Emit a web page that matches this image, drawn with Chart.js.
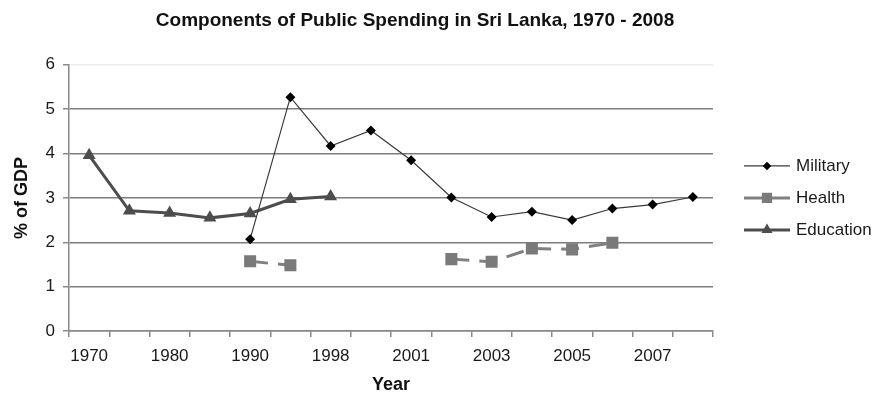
<!DOCTYPE html>
<html>
<head>
<meta charset="utf-8">
<title>Components of Public Spending in Sri Lanka, 1970 - 2008</title>
<script src="https://cdn.jsdelivr.net/npm/chart.js@4.4.1/dist/chart.umd.min.js"></script>
<style>
  html, body { margin: 0; padding: 0; background: #fff; }
  #wrap { width: 881px; height: 396px; }
</style>
</head>
<body>
<div id="wrap"><canvas id="spending" width="881" height="396"></canvas></div>
<script>
// Category labels along the x axis (every other slot is left unlabeled)
const yearLabels = ['1970', '', '1980', '', '1990', '', '1998', '', '2001', '', '2003', '', '2005', '', '2007', ''];
// % of GDP per series, null where the series has no value
const military = [null, null, null, null, 2.07, 5.27, 4.17, 4.52, 3.85, 3.01, 2.57, 2.69, 2.50, 2.76, 2.85, 3.02];
const health = [null, null, null, null, 1.57, 1.48, null, null, null, 1.62, 1.56, 1.86, 1.84, 1.99, null, null];
const education = [3.96, 2.71, 2.66, 2.55, 2.65, 2.97, 3.03, null, null, null, null, null, null, null, null, null];
const yTicks = [0, 1, 2, 3, 4, 5, 6];

const FONT = "'Liberation Sans', Arial, Helvetica, sans-serif";
Chart.defaults.font.family = FONT;
Chart.defaults.color = '#1a1a1a';

const styles = [
  { line: '#3a3a3a', width: 1.2, dash: [], marker: 'rectRot', radius: 5, fill: '#000' },
  { line: '#808080', width: 3, dash: [18, 10], marker: 'rect', radius: 8.5, fill: '#7a7a7a' },
  { line: '#4d4d4d', width: 3, dash: [], marker: 'triangle', radius: 7.5, fill: '#4d4d4d' }
];

function series(label, data, s) {
  return {
    label,
    data,
    borderColor: s.line,
    borderWidth: s.width,
    borderDash: s.dash,
    pointStyle: s.marker,
    pointRadius: s.radius,
    pointHoverRadius: s.radius,
    pointBackgroundColor: s.fill,
    pointBorderWidth: 0,
    tension: 0,
    spanGaps: false,
    fill: false
  };
}

// legend to the right of the plot: line + marker swatch, then the series name
const sideLegend = {
  id: 'sideLegend',
  afterDraw(chart) {
    const { ctx, chartArea } = chart;
    const rowGap = 32;
    const mid = (chartArea.top + chartArea.bottom) / 2;
    const x0 = chartArea.right + 31;
    chart.data.datasets.forEach((ds, i) => {
      const s = styles[i];
      const y = mid + (i - 1) * rowGap;
      ctx.save();
      ctx.strokeStyle = s.line;
      ctx.lineWidth = s.width;
      ctx.setLineDash(s.dash);
      ctx.beginPath();
      ctx.moveTo(x0, y);
      ctx.lineTo(x0 + 46, y);
      ctx.stroke();
      ctx.setLineDash([]);
      ctx.fillStyle = s.fill;
      Chart.helpers.drawPoint(ctx, { pointStyle: s.marker, radius: s.radius * 0.85, rotation: 0, borderWidth: 0 }, x0 + 23, y);
      ctx.fillStyle = '#1a1a1a';
      ctx.font = '17px ' + FONT;
      ctx.textAlign = 'left';
      ctx.textBaseline = 'middle';
      ctx.fillText(ds.label, x0 + 52, y);
      ctx.restore();
    });
  }
};

new Chart(document.getElementById('spending'), {
  type: 'line',
  data: {
    labels: yearLabels,
    datasets: [
      series('Military', military, styles[0]),
      series('Health', health, styles[1]),
      series('Education', education, styles[2])
    ]
  },
  plugins: [sideLegend],
  options: {
    responsive: false,
    animation: false,
    devicePixelRatio: 1,
    layout: { padding: { left: 0, right: 51, top: 0, bottom: 0 } },
    plugins: {
      title: {
        display: true,
        text: 'Components of Public Spending in Sri Lanka, 1970 - 2008',
        color: '#111',
        font: { size: 19, weight: 'bold' },
        padding: { top: 9, bottom: 33 }
      },
      legend: { display: false },
      tooltip: { enabled: false }
    },
    scales: {
      x: {
        offset: true,
        grid: {
          offset: true,
          drawOnChartArea: false,
          drawTicks: true,
          tickLength: 6,
          color: '#8a8a8a',
          lineWidth: 1.5
        },
        border: { color: '#8a8a8a', width: 1.5 },
        ticks: { autoSkip: false, maxRotation: 0, padding: 9, font: { size: 17 }, color: '#1a1a1a' },
        title: {
          display: true,
          text: 'Year',
          color: '#111',
          font: { size: 18, weight: 'bold' },
          padding: { top: 0, bottom: 0 }
        },
        // fixed axis band height, and room on the right for the side legend
        afterFit: scale => {
          scale.height = 65;
          scale.paddingRight = 168;
        }
      },
      y: {
        min: 0,
        max: 6,
        afterBuildTicks: scale => { scale.ticks = yTicks.map(v => ({ value: v })); },
        ticks: { padding: 8, font: { size: 17 }, color: '#1a1a1a' },
        grid: {
          color: ctx => (ctx.tick && ctx.tick.value === 6 ? '#ececec' : '#7d7d7d'),
          tickColor: '#8a8a8a',
          lineWidth: 1.5,
          tickLength: 6
        },
        border: { color: '#8a8a8a', width: 1.5 },
        title: {
          display: true,
          text: '% of GDP',
          color: '#111',
          font: { size: 18, weight: 'bold' },
          padding: { top: 11, bottom: 0 }
        },
        afterFit: scale => { scale.width = 69; }
      }
    }
  }
});
</script>
</body>
</html>
